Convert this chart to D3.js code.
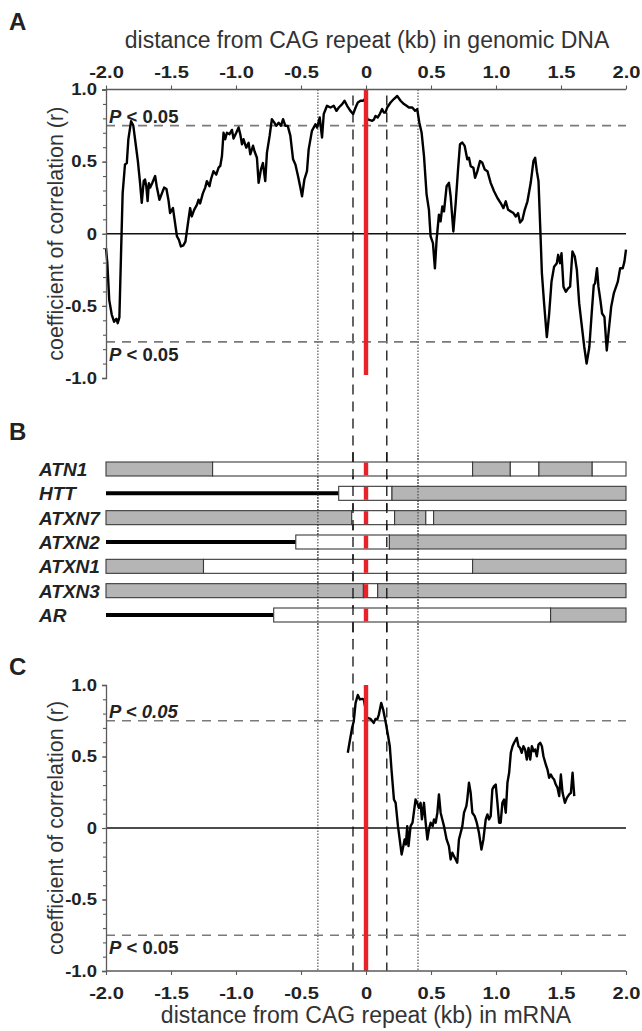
<!DOCTYPE html>
<html><head><meta charset="utf-8">
<script src="https://cdn.jsdelivr.net/npm/d3@7"></script>
<style>
html,body{margin:0;padding:0;background:#fff;}
svg{display:block;font-family:"Liberation Sans",Arial,sans-serif;}
</style></head>
<body>
<svg id="chart" width="642" height="1031"></svg>
<script>
// ---------- DATA ----------
const xTickValues = [-2, -1.5, -1, -0.5, 0, 0.5, 1, 1.5, 2];
const xTickLabels = ["-2.0", "-1.5", "-1.0", "-0.5", "0", "0.5", "1.0", "1.5", "2.0"];
const yTickValues = [-1, -0.5, 0, 0.5, 1];
const yTickLabels = ["-1.0", "-0.5", "0", "0.5", "1.0"];
const pThreshold = 0.75;
const dottedLines = [-0.37, 0.4];
const dashedLines = [-0.1, 0.16];

// Panel A: genomic DNA
const aX = [-2.0,-1.99,-1.975,-1.956,-1.938,-1.92,-1.91,-1.897,-1.887,-1.872,-1.854,-1.84,-1.828,-1.807,-1.79,-1.77,-1.755,-1.738,-1.725,-1.71,-1.70,-1.69,-1.68,-1.67,-1.66,-1.645,-1.622,-1.61,-1.589,-1.57,-1.553,-1.535,-1.52,-1.507,-1.485,-1.476,-1.454,-1.44,-1.424,-1.405,-1.389,-1.373,-1.353,-1.34,-1.322,-1.301,-1.288,-1.276,-1.255,-1.237,-1.224,-1.204,-1.193,-1.173,-1.152,-1.134,-1.121,-1.108,-1.096,-1.083,-1.07,-1.05,-1.031,-1.019,-0.998,-0.98,-0.967,-0.954,-0.942,-0.921,-0.903,-0.89,-0.869,-0.857,-0.839,-0.826,-0.808,-0.793,-0.775,-0.762,-0.741,-0.724,-0.705,-0.69,-0.672,-0.654,-0.638,-0.62,-0.602,-0.582,-0.561,-0.543,-0.523,-0.505,-0.492,-0.474,-0.454,-0.441,-0.416,-0.389,-0.376,-0.356,-0.338,-0.325,-0.30,-0.273,-0.248,-0.227,-0.209,-0.183,-0.165,-0.145,-0.12,-0.099,-0.08,-0.063,-0.042,-0.022,-0.009,0.009,0.048,0.06,0.073,0.09,0.106,0.124,0.137,0.15,0.163,0.189,0.214,0.24,0.266,0.292,0.312,0.33,0.356,0.377,0.394,0.41,0.428,0.446,0.466,0.484,0.497,0.515,0.53,0.543,0.561,0.574,0.587,0.6,0.62,0.638,0.651,0.672,0.69,0.708,0.723,0.741,0.759,0.779,0.792,0.805,0.826,0.839,0.857,0.877,0.895,0.913,0.934,0.959,0.985,1.011,1.036,1.057,1.075,1.093,1.114,1.134,1.152,1.17,1.185,1.203,1.221,1.242,1.267,1.288,1.301,1.314,1.327,1.34,1.353,1.37,1.391,1.409,1.427,1.447,1.468,1.478,1.493,1.504,1.519,1.537,1.555,1.57,1.588,1.606,1.622,1.64,1.658,1.679,1.697,1.718,1.736,1.752,1.762,1.777,1.788,1.803,1.816,1.834,1.852,1.865,1.886,1.906,1.924,1.937,1.955,1.975,1.988,2.0];
const aR = [-0.10,-0.20,-0.46,-0.56,-0.61,-0.59,-0.62,-0.58,-0.23,0.28,0.48,0.49,0.655,0.78,0.75,0.61,0.505,0.353,0.214,0.365,0.376,0.33,0.226,0.35,0.32,0.35,0.40,0.33,0.236,0.28,0.32,0.31,0.236,0.144,0.178,0.12,-0.019,-0.04,-0.088,-0.08,-0.055,0.05,0.178,0.12,0.166,0.2,0.236,0.21,0.28,0.32,0.365,0.33,0.376,0.434,0.41,0.458,0.47,0.539,0.70,0.655,0.70,0.69,0.72,0.66,0.70,0.737,0.69,0.62,0.655,0.597,0.63,0.55,0.61,0.57,0.527,0.353,0.446,0.49,0.365,0.562,0.68,0.794,0.77,0.748,0.77,0.748,0.794,0.748,0.748,0.68,0.516,0.48,0.40,0.32,0.26,0.376,0.434,0.585,0.713,0.759,0.736,0.806,0.667,0.83,0.887,0.875,0.887,0.852,0.875,0.899,0.922,0.887,0.852,0.83,0.875,0.91,0.922,0.922,0.934,0.794,0.783,0.79,0.817,0.806,0.83,0.864,0.841,0.841,0.875,0.91,0.934,0.955,0.922,0.899,0.887,0.875,0.875,0.852,0.864,0.771,0.70,0.54,0.273,0.167,-0.018,-0.065,-0.24,-0.042,0.132,0.086,0.19,0.155,0.329,0.353,0.26,0.016,0.213,0.446,0.62,0.632,0.609,0.516,0.527,0.469,0.458,0.388,0.434,0.504,0.492,0.446,0.434,0.353,0.295,0.248,0.213,0.178,0.225,0.166,0.155,0.143,0.12,0.143,0.078,0.097,0.166,0.225,0.353,0.504,0.527,0.434,0.364,0.05,-0.274,-0.483,-0.716,-0.553,-0.332,-0.228,-0.204,-0.146,-0.204,-0.135,-0.367,-0.402,-0.379,-0.367,-0.123,-0.158,-0.251,-0.483,-0.623,-0.785,-0.9,-0.785,-0.553,-0.356,-0.344,-0.239,-0.367,-0.46,-0.553,-0.576,-0.809,-0.692,-0.507,-0.414,-0.367,-0.332,-0.239,-0.239,-0.193,-0.11];

// Panel C: mRNA
const cX = [-0.14,-0.125,-0.107,-0.094,-0.08,-0.063,-0.047,-0.029,-0.017,0.009,0.035,0.06,0.073,0.086,0.099,0.117,0.132,0.15,0.168,0.183,0.196,0.215,0.228,0.246,0.261,0.274,0.287,0.297,0.307,0.317,0.327,0.343,0.358,0.368,0.381,0.394,0.407,0.42,0.43,0.446,0.459,0.472,0.484,0.497,0.513,0.523,0.536,0.549,0.561,0.574,0.587,0.6,0.62,0.638,0.651,0.664,0.677,0.69,0.702,0.715,0.728,0.741,0.754,0.772,0.779,0.792,0.805,0.818,0.836,0.852,0.869,0.888,0.903,0.921,0.934,0.946,0.959,0.972,0.985,0.998,1.011,1.024,1.036,1.049,1.062,1.075,1.088,1.101,1.114,1.127,1.139,1.16,1.173,1.185,1.198,1.211,1.224,1.237,1.25,1.263,1.276,1.289,1.301,1.314,1.327,1.34,1.353,1.365,1.383,1.396,1.409,1.422,1.435,1.447,1.46,1.473,1.486,1.499,1.512,1.53,1.545,1.563,1.576,1.589,1.602];
const cR = [0.526,0.607,0.7,0.747,0.875,0.93,0.899,0.903,0.899,0.77,0.763,0.735,0.763,0.758,0.793,0.875,0.828,0.747,0.654,0.572,0.409,0.199,0.176,0.013,-0.092,-0.185,-0.127,-0.08,-0.115,0.013,-0.127,0.013,0.037,0.107,0.199,0.176,0.141,0.176,0.06,0.176,0.037,-0.08,-0.01,0.037,0.013,0.06,0.037,0.107,0.235,0.107,0.06,0.013,-0.08,-0.127,-0.22,-0.173,-0.197,-0.22,-0.243,-0.08,-0.034,0.013,0.107,0.153,0.199,0.316,0.246,0.107,0.083,0.037,-0.034,-0.15,-0.08,0.06,0.095,0.06,0.083,0.27,0.293,0.304,0.176,0.037,0.037,0.176,0.199,0.107,0.316,0.386,0.526,0.572,0.596,0.63,0.572,0.56,0.526,0.572,0.549,0.479,0.56,0.479,0.572,0.537,0.549,0.502,0.584,0.596,0.572,0.502,0.444,0.409,0.351,0.374,0.351,0.339,0.304,0.281,0.223,0.374,0.246,0.176,0.211,0.235,0.246,0.386,0.223];

// Panel B: gene structures
const genes = ["ATN1", "HTT", "ATXN7", "ATXN2", "ATXN1", "ATXN3", "AR"];
const geneLeaderEnd = [null, -0.21, null, -0.54, null, null, -0.71];
const geneBreaks = [
  [-2, -1.18, 0.82, 1.11, 1.33, 1.74, 2],
  [-0.21, 0.20, 2],
  [-2, -0.11, 0.22, 0.46, 0.52, 2],
  [-0.54, 0.18, 2],
  [-2, -1.25, 0.82, 2],
  [-2, -0.02, 0.09, 2],
  [-0.71, 1.42, 2]
];
const geneFills = [
  ["g", "w", "g", "w", "g", "w"],
  ["w", "g"],
  ["g", "w", "g", "w", "g"],
  ["w", "g"],
  ["g", "w", "g"],
  ["g", "w", "g"],
  ["w", "g"]
];

// ---------- DRAW ----------
const svg = d3.select("#chart");
const x = d3.scaleLinear().domain([-2, 2]).range([106, 626]);
const yA = d3.scaleLinear().domain([-1, 1]).range([378, 89.5]);
const yC = d3.scaleLinear().domain([-1, 1]).range([971, 685]);
const rowY = d3.scalePoint().domain(genes).range([469, 615]);

const RED = "#e8222a";
const GRAY_AX = "#5a5a5a";
const TXT = "#222";

// vertical reference lines spanning all panels
svg.append("g").selectAll("line").data(dottedLines).join("line")
  .attr("x1", d => x(d)).attr("x2", d => x(d))
  .attr("y1", yA(1)).attr("y2", yC(-1))
  .attr("stroke", "#333").attr("stroke-width", 1).attr("stroke-dasharray", "1.5,1.5");
svg.append("g").selectAll("line").data(dashedLines).join("line")
  .attr("x1", d => x(d)).attr("x2", d => x(d))
  .attr("y1", yA(1) + 6).attr("y2", yC(-1))
  .attr("stroke", "#111").attr("stroke-width", 1.3).attr("stroke-dasharray", "10,7");

function panel(y, xs, rs, axisTopSide, pItalicAll) {
  const g = svg.append("g");
  // threshold lines
  g.selectAll("line.th").data([pThreshold, -pThreshold]).join("line")
    .attr("x1", x(-2)).attr("x2", x(2))
    .attr("y1", d => y(d)).attr("y2", d => y(d))
    .attr("stroke", "#7a7a7a").attr("stroke-width", 1.7).attr("stroke-dasharray", "9,7");
  // zero line
  g.append("line").attr("x1", x(-2)).attr("x2", x(2))
    .attr("y1", y(0)).attr("y2", y(0)).attr("stroke", "#111").attr("stroke-width", 1.7);
  // P labels
  const pl = [{v: pThreshold, dy: -3}, {v: -pThreshold, dy: 19}];
  pl.forEach((p, i) => {
    const t = g.append("text").attr("x", x(-2) + 3).attr("y", y(p.v) + p.dy)
      .attr("font-size", 18.5).attr("font-weight", "bold").attr("fill", TXT);
    t.append("tspan").attr("font-style", "italic").text("P");
    const rest = t.append("tspan").text(" < 0.05");
    if (pItalicAll && i === 0) rest.attr("font-style", "italic");
  });
  // curve
  const pts = xs.map((d, i) => [d, rs[i]]);
  g.append("path").datum(pts)
    .attr("d", d3.line().x(d => x(d[0])).y(d => y(d[1])))
    .attr("fill", "none").attr("stroke", "#000").attr("stroke-width", 2.4)
    .attr("stroke-linejoin", "round");
  // red line
  g.append("line").attr("x1", x(0)).attr("x2", x(0))
    .attr("y1", y(1)).attr("y2", axisTopSide ? y(-0.98) : y(-1))
    .attr("stroke", RED).attr("stroke-width", 4.4);
  // x axis
  const xa = (axisTopSide ? d3.axisTop(x) : d3.axisBottom(x))
    .tickValues(xTickValues).tickFormat((d, i) => xTickLabels[i]).tickSize(4)
    .tickPadding(axisTopSide ? 8 : 12);
  const gx = g.append("g").attr("transform", `translate(0,${axisTopSide ? y(1) : y(-1)})`).call(xa);
  // y axis minor
  const ya = d3.axisLeft(y).tickValues(d3.range(-10, 11).map(d => d / 10)).tickFormat("").tickSize(3);
  const gyMinor = g.append("g").attr("transform", `translate(${x(-2)},0)`).call(ya);
  gyMinor.select(".domain").remove();
  const yb = d3.axisLeft(y).tickValues(yTickValues).tickFormat((d, i) => yTickLabels[i]).tickSize(4).tickPadding(4);
  const gy = g.append("g").attr("transform", `translate(${x(-2)},0)`).call(yb);
  [gx, gy, gyMinor].forEach(a => {
    a.selectAll("path.domain").attr("stroke", GRAY_AX).attr("stroke-width", 1.3);
    a.selectAll(".tick line").attr("stroke", GRAY_AX).attr("stroke-width", 1.1);
    a.selectAll(".tick text").attr("font-size", 16.5).attr("font-weight", "bold").attr("fill", TXT)
      .attr("font-family", "Liberation Sans, Arial, sans-serif");
  });
  gx.selectAll(".tick text").attr("transform", "scale(1.22,1)");
  gy.selectAll(".tick text").attr("x", 0).attr("transform", "translate(-9,0) scale(1.12,1)");
  gx.select("path.domain").attr("d", `M${x(-2)},0H${x(2)}`);
  // y axis title
  g.append("text")
    .attr("transform", `translate(63,${(y(1) + y(-1)) / 2}) rotate(-90)`)
    .attr("text-anchor", "middle").attr("font-size", 21.5).attr("fill", "#333")
    .text("coefficient of correlation (r)");
}

panel(yA, aX, aR, true, false);
panel(yC, cX, cR, false, true);

// axis titles
svg.append("text").attr("x", 367).attr("y", 48).attr("text-anchor", "middle")
  .attr("font-size", 23).attr("fill", "#333").text("distance from CAG repeat (kb) in genomic DNA");
svg.append("text").attr("x", 366).attr("y", 1023).attr("text-anchor", "middle")
  .attr("font-size", 23).attr("fill", "#333").text("distance from CAG repeat (kb) in mRNA");

// panel letters
[["A", 30], ["B", 440], ["C", 675]].forEach(([l, yy]) => {
  svg.append("text").attr("x", 9).attr("y", yy).attr("font-size", 24)
    .attr("font-weight", "bold").attr("fill", TXT).text(l);
});

// Panel B
const barH = 14;
const gb = svg.append("g");
genes.forEach((gname, gi) => {
  const cy = rowY(gname);
  gb.append("text").attr("x", 39).attr("y", cy + 7).attr("font-size", 19)
    .attr("font-weight", "bold").attr("font-style", "italic").attr("fill", TXT).text(gname);
  if (geneLeaderEnd[gi] !== null) {
    gb.append("line").attr("x1", x(-2)).attr("x2", x(geneLeaderEnd[gi]))
      .attr("y1", cy).attr("y2", cy).attr("stroke", "#000").attr("stroke-width", 4);
  }
  const br = geneBreaks[gi];
  const segs = geneFills[gi].map((f, i) => ({x0: br[i], x1: br[i + 1], f}));
  gb.selectAll(null).data(segs).join("rect")
    .attr("x", d => x(d.x0)).attr("width", d => x(d.x1) - x(d.x0))
    .attr("y", cy - barH / 2).attr("height", barH)
    .attr("fill", d => d.f === "g" ? "#b5b5b5" : "#fff")
    .attr("stroke", "#3a3a3a").attr("stroke-width", 1.1);
  gb.append("line").attr("x1", x(0)).attr("x2", x(0))
    .attr("y1", cy - barH / 2 + 0.5).attr("y2", cy + barH / 2 - 0.5)
    .attr("stroke", RED).attr("stroke-width", 4.4);
});
// reference lines over panel B bars
svg.append("g").selectAll("line").data(dottedLines).join("line")
  .attr("x1", d => x(d)).attr("x2", d => x(d))
  .attr("y1", 455).attr("y2", 630)
  .attr("stroke", "#333").attr("stroke-width", 1).attr("stroke-dasharray", "1.5,1.5");
svg.append("g").selectAll("line").data(dashedLines).join("line")
  .attr("x1", d => x(d)).attr("x2", d => x(d))
  .attr("y1", 452).attr("y2", 640)
  .attr("stroke", "#111").attr("stroke-width", 1.3).attr("stroke-dasharray", "10,7");
</script>
</body></html>
